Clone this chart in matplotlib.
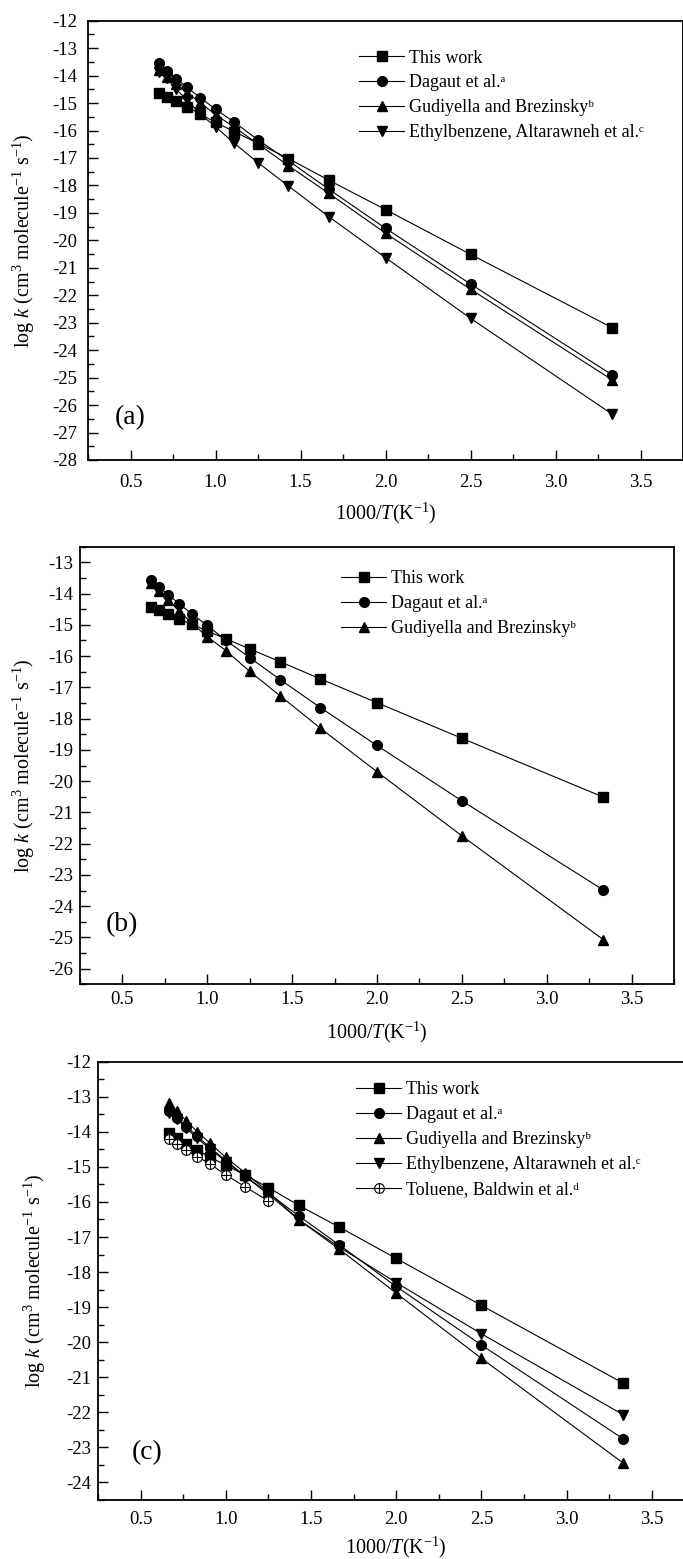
import matplotlib
matplotlib.use("Agg")
import matplotlib.pyplot as plt
from matplotlib.ticker import MultipleLocator, FormatStrFormatter
import numpy as np

plt.rcParams['font.family'] = ['Liberation Serif', 'DejaVu Serif', 'DejaVu Sans']
plt.rcParams['mathtext.fontset'] = 'custom'
plt.rcParams['mathtext.rm'] = 'Liberation Serif'
plt.rcParams['mathtext.it'] = 'Liberation Serif:italic'
plt.rcParams['mathtext.bf'] = 'Liberation Serif:bold'

# 1000/T for T = 1500 ... 300 K
x_all = [0.667, 0.714, 0.769, 0.833, 0.909, 1.0, 1.111, 1.25, 1.429, 1.667, 2.0, 2.5, 3.333]
x_tol = [0.667, 0.714, 0.769, 0.833, 0.909, 1.0, 1.111, 1.25]

# Panel (a)
a_this = [-14.62, -14.77, -14.92, -15.13, -15.40, -15.70, -16.04, -16.47, -17.02, -17.81, -18.88, -20.51, -23.18]
a_dag = [-13.55, -13.82, -14.11, -14.43, -14.80, -15.22, -15.70, -16.34, -17.10, -18.14, -19.56, -21.59, -24.90]
a_gud = [-13.80, -14.05, -14.30, -14.62, -14.98, -15.42, -15.88, -16.49, -17.28, -18.29, -19.74, -21.78, -25.08]
a_eth = [-13.86, -14.10, -14.50, -14.89, -15.40, -15.86, -16.47, -17.17, -18.02, -19.14, -20.63, -22.84, -26.33]

# Panel (b)
b_this = [-14.44, -14.53, -14.66, -14.82, -14.98, -15.20, -15.45, -15.77, -16.18, -16.73, -17.49, -18.63, -20.51]
b_dag = [-13.56, -13.78, -14.03, -14.32, -14.65, -15.02, -15.50, -16.05, -16.75, -17.65, -18.86, -20.63, -23.48]
b_gud = [-13.67, -13.92, -14.20, -14.55, -14.95, -15.38, -15.83, -16.49, -17.27, -18.31, -19.70, -21.75, -25.07]

# Panel (c)
c_this = [-14.04, -14.19, -14.35, -14.52, -14.73, -14.95, -15.23, -15.59, -16.10, -16.72, -17.61, -18.95, -21.17]
c_dag = [-13.40, -13.60, -13.85, -14.13, -14.45, -14.82, -15.25, -15.75, -16.40, -17.23, -18.41, -20.08, -22.76]
c_gud = [-13.17, -13.41, -13.69, -14.00, -14.33, -14.73, -15.16, -15.71, -16.51, -17.35, -18.60, -20.46, -23.45]
c_eth = [-13.45, -13.64, -13.90, -14.19, -14.49, -14.85, -15.26, -15.78, -16.51, -17.29, -18.30, -19.76, -22.07]
c_tol = [-14.21, -14.35, -14.52, -14.71, -14.92, -15.23, -15.56, -15.97]

lab_this = 'This work'
lab_dag = 'Dagaut et al.\u1d43'
lab_gud = 'Gudiyella and Brezinsky\u1d47'
lab_eth = 'Ethylbenzene, Altarawneh et al.\u1d9c'
lab_tol = 'Toluene, Baldwin et al.\u1d48'

W, H = 683, 1559
fig = plt.figure(figsize=(W / 100, H / 100), dpi=100)

def px_axes(left, top, right, bottom):
    return fig.add_axes([left / W, 1 - bottom / H, (right - left) / W, (bottom - top) / H])

lw = 0.8
ms = 7
tick_fs = 13.5

def style(ax, ylim, yticks, xpad, ypad, lpad, ylx):
    ax.set_xlim(0.25, 3.75)
    ax.set_ylim(*ylim)
    ax.xaxis.set_major_locator(MultipleLocator(0.5))
    ax.xaxis.set_minor_locator(MultipleLocator(0.25))
    ax.set_yticks(yticks)
    ax.yaxis.set_minor_locator(MultipleLocator(0.5))
    ax.xaxis.set_major_formatter(FormatStrFormatter('%.1f'))
    ax.yaxis.set_major_formatter(FormatStrFormatter('%d'))
    ax.tick_params(which='major', direction='in', length=7, width=1.0, labelsize=tick_fs)
    ax.tick_params(which='minor', direction='in', length=4, width=1.0)
    ax.tick_params(axis='x', which='major', pad=xpad)
    ax.tick_params(axis='y', which='major', pad=ypad)
    ax.tick_params(axis='y', which='both', right=False)
    ax.tick_params(axis='x', which='both', top=False)
    for s in ax.spines.values():
        s.set_linewidth(1.3)
    ax.set_ylabel('log $\\mathit{k}$ (cm$^3$ molecule$^{-1}$ s$^{-1}$)', fontsize=14.5)
    ax.set_xlabel('1000/$\\mathit{T}$(K$^{-1}$)', fontsize=14.5, labelpad=lpad)
    ax.yaxis.set_label_coords(ylx, 0.5)

def leg(ax, handles, labels, bbox):
    ax.legend(handles, labels, loc='upper left', bbox_to_anchor=bbox, frameon=False,
              fontsize=13, handlelength=2.5, handletextpad=0.25, labelspacing=0.44,
              borderaxespad=0, borderpad=0)

# ---------- panel (a) ----------
ax = px_axes(88, 20.7, 683, 460)
h1, = ax.plot(x_all, a_this, '-s', color='black', lw=lw, ms=ms)
h2, = ax.plot(x_all, a_dag, '-o', color='black', lw=lw, ms=ms)
h3, = ax.plot(x_all, a_gud, '-^', color='black', lw=lw, ms=ms)
h4, = ax.plot(x_all, a_eth, '-v', color='black', lw=lw, ms=ms)
style(ax, (-28, -12), np.arange(-28, -11, 1), 10, 8, 7, -0.0857)
leg(ax, [h1, h2, h3, h4], [lab_this, lab_dag, lab_gud, lab_eth], (0.4555, 0.9344))
ax.text(0.5, -26.45, '(a)', fontsize=20, ha='center', va='center')

# ---------- panel (b) ----------
ax = px_axes(80, 546.7, 674, 984.3)
h1, = ax.plot(x_all, b_this, '-s', color='black', lw=lw, ms=ms)
h2, = ax.plot(x_all, b_dag, '-o', color='black', lw=lw, ms=ms)
h3, = ax.plot(x_all, b_gud, '-^', color='black', lw=lw, ms=ms)
style(ax, (-26.5, -12.5), np.arange(-26, -12, 1), 5, 5, 8, -0.0724)
leg(ax, [h1, h2, h3], [lab_this, lab_dag, lab_gud], (0.4394, 0.9469))
ax.text(0.5, -24.6, '(b)', fontsize=20, ha='center', va='center')

# ---------- panel (c) ----------
ax = px_axes(98, 1061.7, 694.4, 1500)
h1, = ax.plot(x_all, c_this, '-s', color='black', lw=lw, ms=ms)
h2, = ax.plot(x_all, c_dag, '-o', color='black', lw=lw, ms=ms)
h3, = ax.plot(x_all, c_gud, '-^', color='black', lw=lw, ms=ms)
h4, = ax.plot(x_all, c_eth, '-v', color='black', lw=lw, ms=ms)
h5a, = ax.plot(x_tol, c_tol, '-o', color='black', lw=lw, ms=ms, mfc='white', mew=0.8)
h5b, = ax.plot(x_tol, c_tol, '+', color='black', ms=ms, mew=0.8)
style(ax, (-24.5, -12), np.arange(-24, -11, 1), 8, 5, 5, -0.0838)
leg(ax, [h1, h2, h3, h4, (h5a, h5b)], [lab_this, lab_dag, lab_gud, lab_eth, lab_tol],
    (0.4326, 0.9549))
ax.text(0.54, -23.15, '(c)', fontsize=20, ha='center', va='center')

fig.savefig('out.png', dpi=100)
